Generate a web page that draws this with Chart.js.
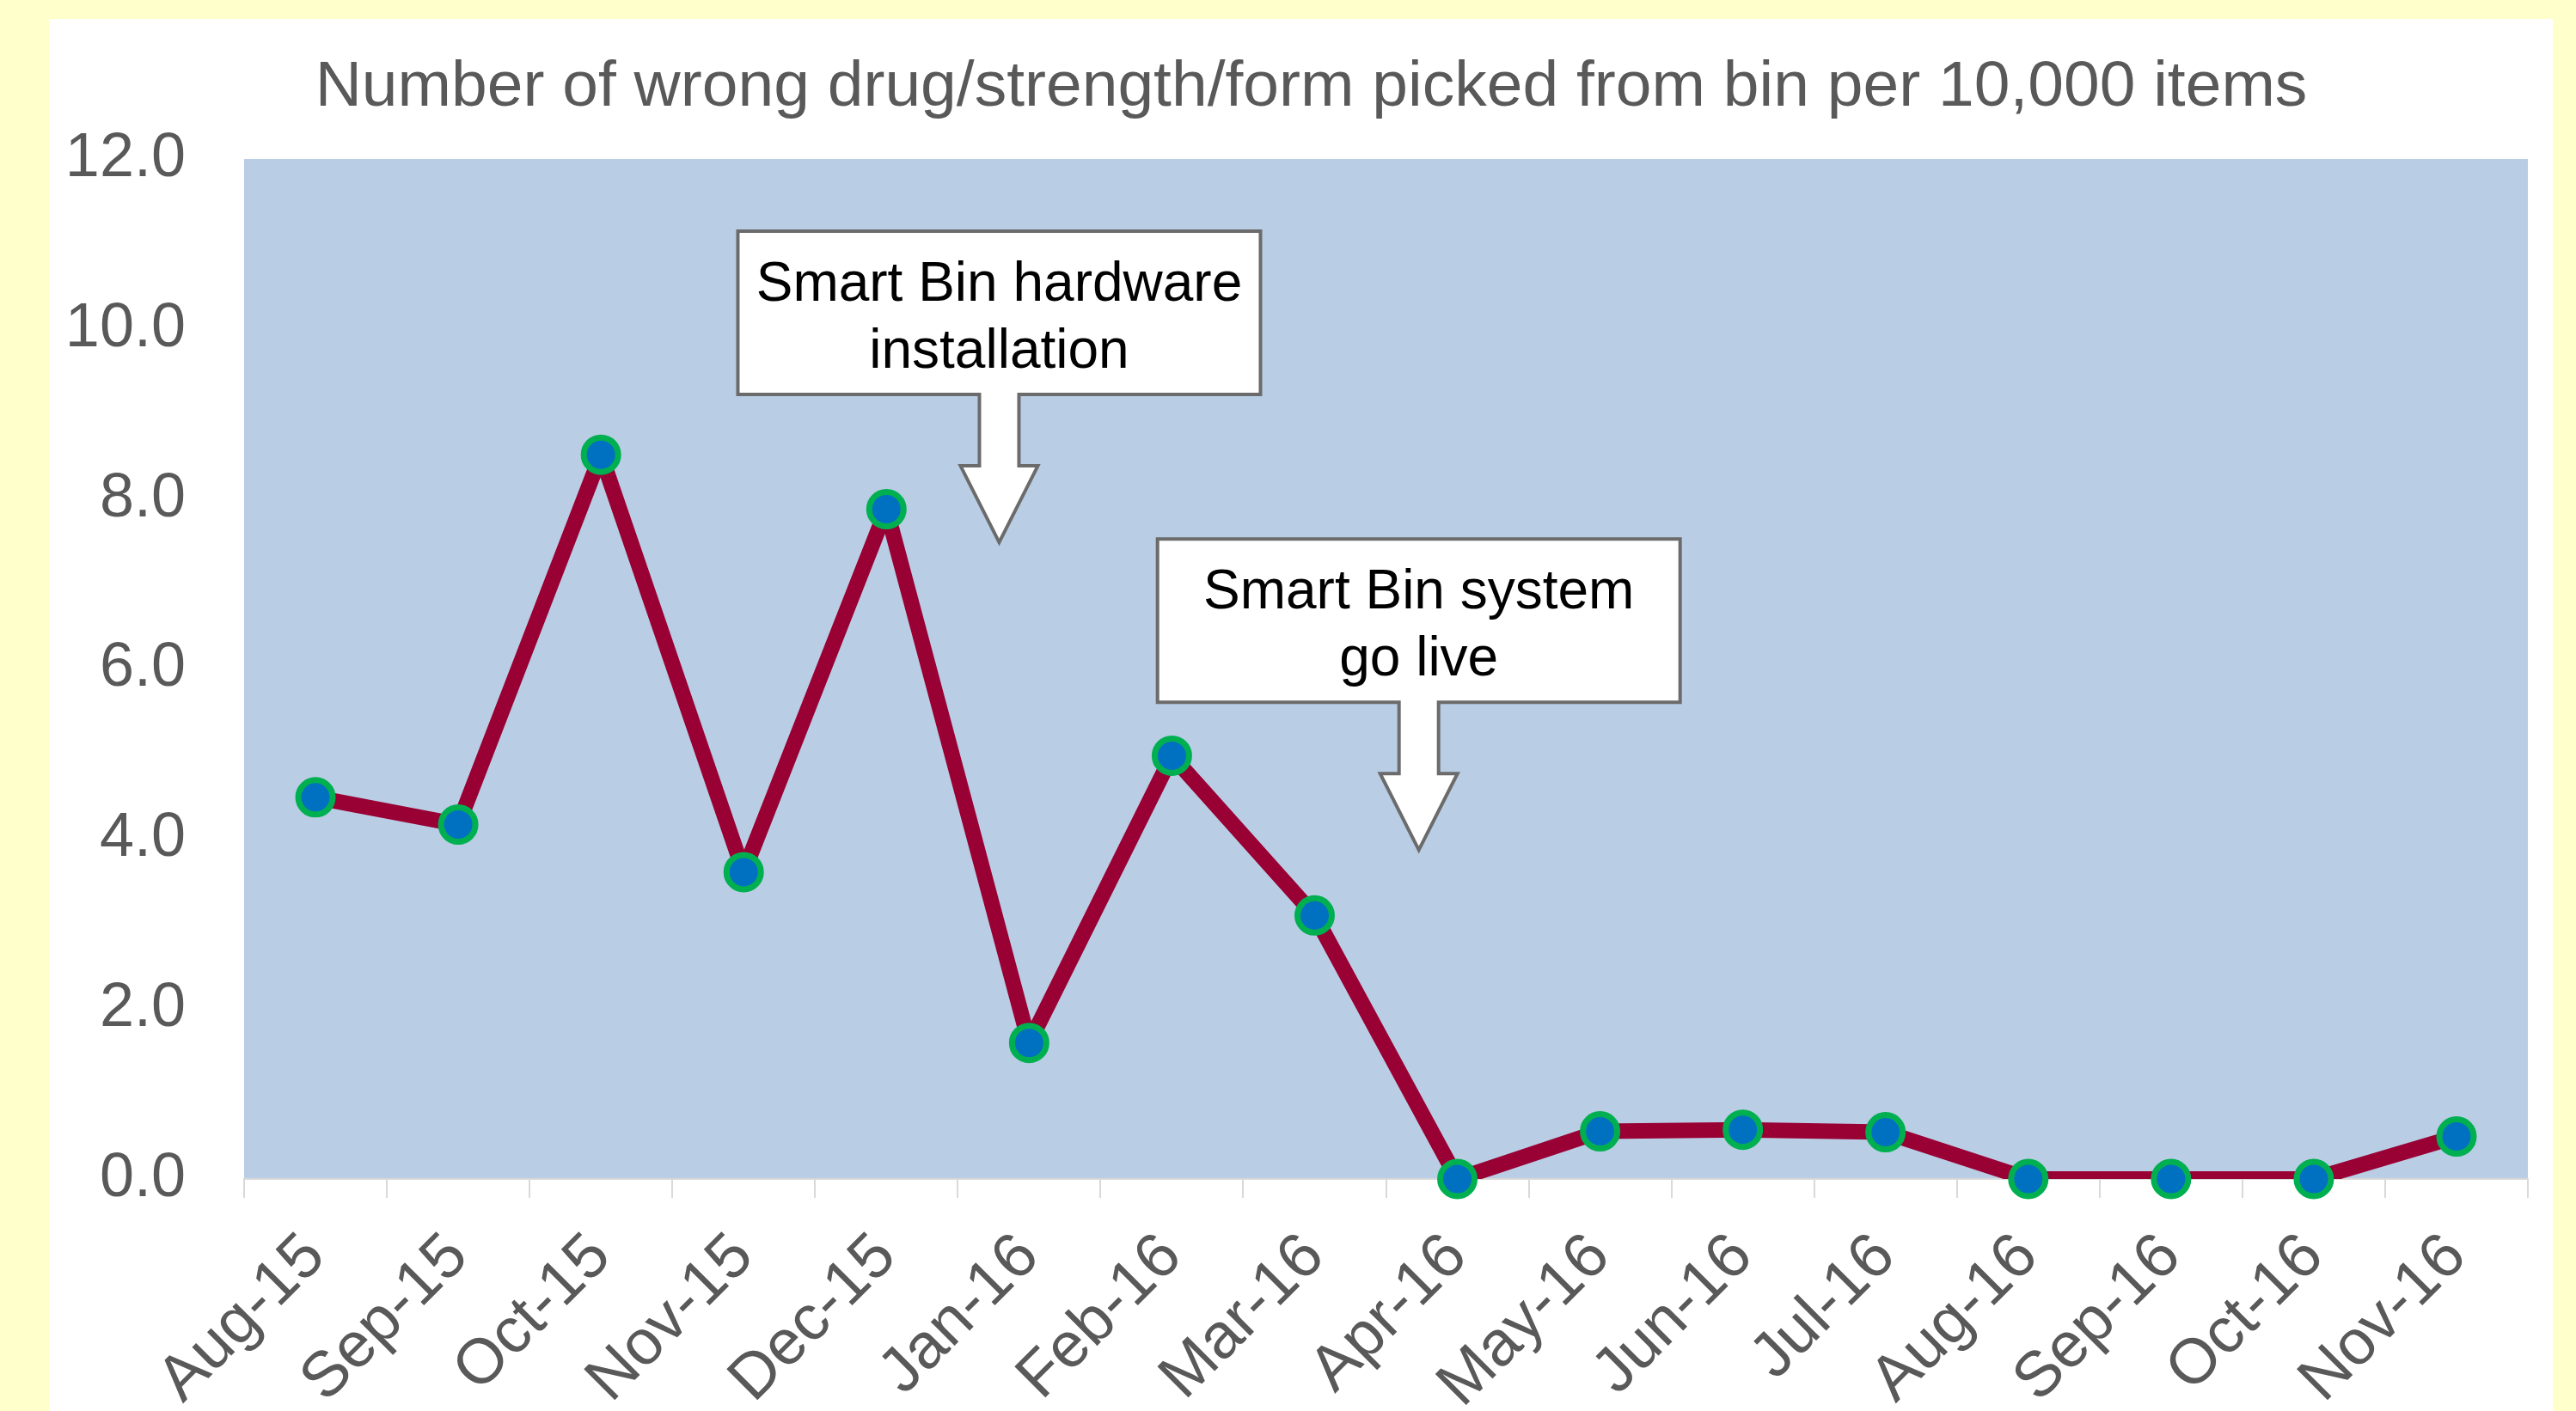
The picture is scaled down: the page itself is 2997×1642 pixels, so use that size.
<!DOCTYPE html>
<html>
<head>
<meta charset="utf-8">
<script src="https://cdn.jsdelivr.net/npm/chart.js@4.4.0/dist/chart.umd.min.js"></script>
<style>
    html, body { margin: 0; padding: 0; }
    body { width: 2997px; height: 1642px; background: #FFFFCC; position: relative; overflow: hidden; }
    #panel { position: absolute; left: 57px; top: 22px; width: 2913px; height: 1620px; background: #FFFFFF; }
    #chartErrors { position: absolute; left: 0; top: 0; }
</style>
</head>
<body>
<div id="panel"></div>
<canvas id="chartErrors" width="2997" height="1642"></canvas>
<script>
// monthly values
const months = ["Aug-15", "Sep-15", "Oct-15", "Nov-15", "Dec-15", "Jan-16", "Feb-16", "Mar-16",
    "Apr-16", "May-16", "Jun-16", "Jul-16", "Aug-16", "Sep-16", "Oct-16", "Nov-16"];
const wrongPicks = [4.49, 4.17, 8.52, 3.61, 7.88, 1.60, 4.98, 3.10, 0, 0.56, 0.58, 0.55, 0, 0, 0, 0.50];
const yTicks = [0, 2, 4, 6, 8, 10, 12];
const chartTitle = "Number of wrong drug/strength/form picked from bin per 10,000 items";
const calloutTexts = [["Smart Bin hardware", "installation"], ["Smart Bin system", "go live"]];

const FONT = "'Liberation Sans', Arial, sans-serif";
const GREY_TEXT = "#595959";

Chart.defaults.font.family = FONT;

// shaded plot area
const plotBackground = {
    id: "plotBackground",
    beforeDraw(chart) {
        const a = chart.chartArea;
        const ctx = chart.ctx;
        ctx.save();
        ctx.fillStyle = "#B9CDE5";
        ctx.fillRect(a.left, a.top, a.right - a.left, a.bottom - a.top);
        ctx.restore();
    }
};

// down-arrow callout boxes, tip given in (category index, value)
const callouts = {
    id: "callouts",
    afterDraw(chart, args, opts) {
        const ctx = chart.ctx;
        opts.items.forEach(function(item) {
            const tipX = chart.scales.x.getPixelForValue(item.at[0]);
            const tipY = chart.scales.y.getPixelForValue(item.at[1]);
            drawCallout(ctx, tipX, tipY, item.lines);
        });
    }
};

function drawCallout(ctx, tipX, tipY, lines) {
    const bw = 608, bh = 190, sw = 23, sl = 83, hw = 45, hl = 89;
    const left = tipX - bw / 2;
    const bottom = tipY - hl - sl;
    const top = bottom - bh;
    ctx.save();
    ctx.beginPath();
    ctx.moveTo(left, top);
    ctx.lineTo(left + bw, top);
    ctx.lineTo(left + bw, bottom);
    ctx.lineTo(tipX + sw, bottom);
    ctx.lineTo(tipX + sw, bottom + sl);
    ctx.lineTo(tipX + hw, bottom + sl);
    ctx.lineTo(tipX, tipY);
    ctx.lineTo(tipX - hw, bottom + sl);
    ctx.lineTo(tipX - sw, bottom + sl);
    ctx.lineTo(tipX - sw, bottom);
    ctx.lineTo(left, bottom);
    ctx.closePath();
    ctx.fillStyle = "#FFFFFF";
    ctx.fill();
    ctx.lineWidth = 4;
    ctx.lineJoin = "miter";
    ctx.strokeStyle = "#6B6B6B";
    ctx.stroke();

    ctx.fillStyle = "#000000";
    ctx.font = "64px " + FONT;
    ctx.textAlign = "center";
    ctx.textBaseline = "middle";
    ctx.fillText(lines[0], tipX, top + 63);
    ctx.fillText(lines[1], tipX, top + 141);
    ctx.restore();
}

const ctx = document.getElementById("chartErrors").getContext("2d");
const errorsChart = new Chart(ctx, {
    type: "line",
    data: {
        labels: months,
        datasets: [{
            data: wrongPicks,
            showLine: false,
            pointRadius: 20,
            pointBorderWidth: 7,
            pointBackgroundColor: "#0070C0",
            pointBorderColor: "#00B050",
            clip: false,
            order: 0
        }, {
            data: wrongPicks,
            borderColor: "#990033",
            borderWidth: 18,
            borderJoinStyle: "round",
            pointRadius: 0,
            tension: 0,
            order: 1
        }]
    },
    options: {
        responsive: false,
        animation: false,
        layout: { padding: { left: 74, right: 20, top: 0, bottom: 0 } },
        plugins: {
            legend: { display: false },
            tooltip: { enabled: false },
            title: {
                display: true,
                text: chartTitle,
                color: GREY_TEXT,
                font: { size: 75, weight: "normal", lineHeight: 1.2 },
                padding: { top: 57, bottom: 38 }
            },
            callouts: {
                items: [
                    { lines: calloutTexts[0], at: [4.79, 7.49] },
                    { lines: calloutTexts[1], at: [7.73, 3.87] }
                ]
            }
        },
        scales: {
            x: {
                offset: true,
                grid: {
                    display: true,
                    offset: true,
                    drawOnChartArea: false,
                    drawTicks: true,
                    tickLength: 22,
                    color: "#D9D9D9",
                    lineWidth: 2
                },
                border: { display: true, color: "#D9D9D9", width: 2 },
                ticks: {
                    color: GREY_TEXT,
                    font: { size: 74, lineHeight: 1.2 },
                    minRotation: 45,
                    maxRotation: 45,
                    autoSkip: false,
                    padding: 25
                },
                afterFit: function(scale) { scale.height = 270; }
            },
            y: {
                min: 0,
                max: 12,
                afterBuildTicks: function(scale) {
                    scale.ticks = yTicks.map(function(v) { return { value: v }; });
                },
                grid: { display: false, drawTicks: false },
                border: { display: false },
                ticks: {
                    color: GREY_TEXT,
                    font: { size: 72, lineHeight: 1.2 },
                    padding: 68,
                    callback: function(value) { return value.toFixed(1); }
                },
                afterFit: function(scale) { scale.width = 210; }
            },
            // empty right margin so the title centres like the original
            spacer: {
                type: "linear",
                position: "right",
                grid: { display: false, drawTicks: false },
                border: { display: false },
                ticks: { display: false },
                afterFit: function(scale) { scale.width = 36; }
            }
        }
    },
    plugins: [plotBackground, callouts]
});
</script>
</body>
</html>
